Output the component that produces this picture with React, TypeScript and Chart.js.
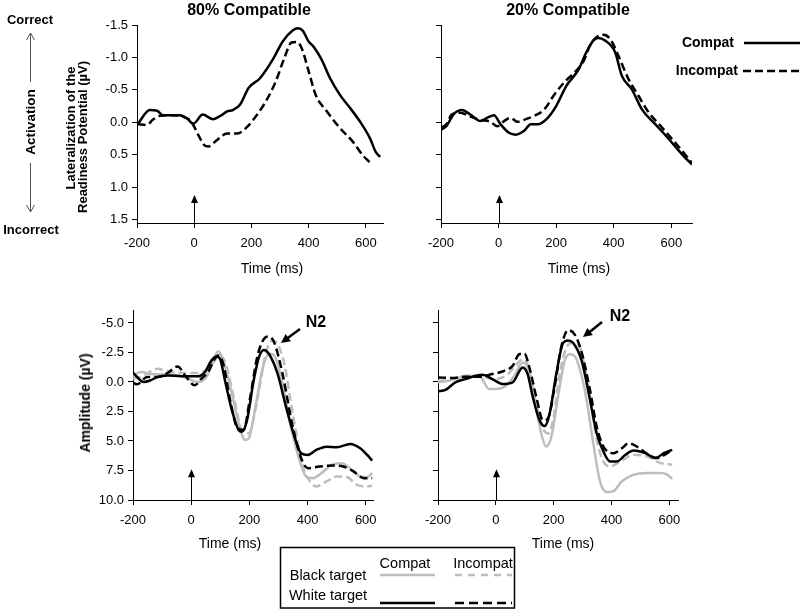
import React, { useEffect, useRef } from "react";
import { Chart, registerables } from "chart.js";

Chart.register(...registerables);

const FONT = "'Liberation Sans', Arial, Helvetica, sans-serif";
const GRAY = "#bdbdbd";
const BLACK = "#000000";

// ---------- tick labels ----------
const X_TICKS = [-200, 0, 200, 400, 600];
const LRP_TICKS = [-1.5, -1.0, -0.5, 0.0, 0.5, 1.0, 1.5];
const AMP_TICKS = [-5.0, -2.5, 0.0, 2.5, 5.0, 7.5, 10.0];

// ---------- 80% Compatible, LRP ----------
const TL_COMPAT_T = [-198, -155, -130, -110, -50, -25, -3, 30, 65, 95, 115, 135, 160, 190, 230, 275, 310, 345, 363, 380, 398, 420, 445, 475, 510, 545, 580, 615, 635, 650];
const TL_COMPAT_V = [0.03, -0.19, -0.18, -0.11, -0.11, -0.06, 0.02, -0.12, -0.05, -0.11, -0.17, -0.19, -0.27, -0.53, -0.68, -0.97, -1.25, -1.42, -1.45, -1.41, -1.26, -1.15, -0.97, -0.68, -0.42, -0.22, -0.01, 0.25, 0.46, 0.53];
const TL_INCOMPAT_T = [-198, -165, -145, -120, -75, -40, -10, 15, 35, 50, 80, 115, 150, 185, 215, 250, 285, 315, 340, 357, 375, 400, 425, 460, 510, 555, 590, 620];
const TL_INCOMPAT_V = [0.03, 0.04, -0.04, -0.10, -0.11, -0.09, -0.01, 0.20, 0.35, 0.37, 0.27, 0.17, 0.17, 0.07, -0.09, -0.32, -0.63, -0.99, -1.23, -1.24, -1.15, -0.79, -0.42, -0.19, 0.09, 0.30, 0.51, 0.64];

// ---------- 20% Compatible, LRP ----------
const TR_COMPAT_T = [-198, -180, -157, -127, -98, -63, -40, -16, 7, 36, 60, 89, 112, 136, 171, 200, 235, 276, 305, 329, 346, 370, 405, 428, 463, 498, 545, 592, 639, 672];
const TR_COMPAT_V = [0.11, 0.05, -0.12, -0.19, -0.12, -0.02, -0.07, -0.11, 0.03, 0.16, 0.19, 0.13, 0.03, 0.03, -0.07, -0.25, -0.56, -0.80, -1.08, -1.26, -1.30, -1.26, -1.08, -0.72, -0.51, -0.20, 0.03, 0.26, 0.50, 0.65];
const TR_INCOMPAT_T = [-198, -180, -163, -133, -98, -63, -28, -5, 19, 42, 65, 95, 124, 159, 194, 229, 264, 294, 317, 340, 364, 387, 416, 451, 486, 522, 568, 615, 662, 672];
const TR_INCOMPAT_V = [0.08, 0.02, -0.12, -0.15, -0.09, -0.04, -0.01, 0.06, -0.02, -0.07, -0.01, -0.05, -0.10, -0.20, -0.43, -0.62, -0.77, -0.93, -1.18, -1.31, -1.35, -1.29, -1.03, -0.67, -0.41, -0.15, 0.08, 0.32, 0.57, 0.63];

// ---------- 80% Compatible, amplitude ----------
const BL_WHITE_COMPAT_T = [-200, -186, -163, -140, -116, -81, -35, 23, 47, 70, 87, 99, 116, 140, 163, 174, 192, 215, 233, 250, 267, 297, 326, 355, 378, 401, 430, 465, 500, 547, 581, 605, 622];
const BL_WHITE_COMPAT_V = [-0.8, -0.42, 0, -0.14, -0.42, -0.56, -0.48, -0.48, -0.84, -1.83, -2.16, -1.97, -0.14, 2.39, 4.07, 4.21, 3.23, -0.14, -2.11, -2.72, -2.39, -0.70, 2.11, 4.63, 6.04, 6.18, 5.76, 5.48, 5.53, 5.25, 5.62, 6.18, 6.66];
const BL_WHITE_INCOMPAT_T = [-200, -186, -151, -116, -81, -47, -17, 12, 35, 58, 81, 93, 110, 134, 157, 180, 203, 227, 250, 267, 285, 314, 349, 378, 401, 442, 488, 523, 558, 593, 622];
const BL_WHITE_INCOMPAT_V = [0.08, 0.2, -0.42, -0.42, -0.76, -1.32, -0.42, 0.28, -0.28, -0.84, -1.97, -2.25, -1.55, 1.55, 3.79, 4.07, 1.26, -2.11, -3.65, -3.85, -3.37, -0.70, 3.79, 6.46, 7.30, 7.16, 7.08, 7.16, 7.58, 8.15, 8.15];
const BL_BLACK_COMPAT_T = [-200, -174, -128, -81, -23, 23, 52, 76, 93, 110, 140, 163, 186, 198, 221, 244, 267, 285, 314, 343, 372, 395, 419, 448, 483, 517, 552, 581, 605, 622];
const BL_BLACK_COMPAT_V = [-0.48, -0.84, -0.65, -0.65, -0.42, 0, -0.42, -1.83, -2.61, -1.83, 0.98, 3.51, 4.92, 4.78, 2.11, -0.98, -2.39, -2.25, 0.14, 3.79, 6.60, 8.01, 8.15, 7.72, 7.02, 6.88, 7.44, 8.01, 8.06, 7.72];
const BL_BLACK_INCOMPAT_T = [-200, -174, -116, -70, -23, 23, 58, 87, 105, 122, 151, 174, 198, 227, 256, 279, 297, 320, 349, 384, 413, 430, 465, 500, 535, 570, 605, 622];
const BL_BLACK_INCOMPAT_V = [-0.28, -0.42, -1.12, -0.84, -0.76, -0.76, -1.12, -1.97, -2.11, -1.26, 1.83, 4.07, 4.35, 1.55, -2.39, -3.51, -3.23, -1.55, 2.67, 7.16, 8.57, 8.85, 8.43, 8.01, 8.06, 8.71, 8.85, 8.79];

// ---------- 20% Compatible, amplitude ----------
const BR_WHITE_COMPAT_T = [-200, -174, -140, -105, -47, -12, 23, 58, 93, 110, 128, 151, 169, 186, 209, 233, 250, 267, 297, 326, 349, 372, 395, 419, 448, 477, 517, 552, 581, 610];
const BR_WHITE_COMPAT_V = [0.78, 0.67, 0.03, -0.25, -0.61, -0.25, 0.17, 0.03, -1.23, -0.67, 1.28, 3.24, 3.74, 2.68, -0.67, -3.32, -3.52, -3.32, -1.79, 1.56, 4.36, 5.89, 6.73, 6.73, 6.17, 5.81, 6.03, 6.45, 6.03, 5.75];
const BR_WHITE_INCOMPAT_T = [-200, -151, -105, -58, -12, 23, 58, 81, 99, 116, 140, 163, 180, 203, 227, 250, 273, 297, 326, 349, 372, 407, 436, 459, 488, 523, 558, 593, 610];
const BR_WHITE_INCOMPAT_V = [-0.39, -0.34, -0.45, -0.45, -0.67, -0.89, -1.37, -2.35, -2.40, -1.23, 1.28, 3.24, 3.10, 0.45, -3.04, -4.39, -4.02, -2.49, 0.73, 3.80, 5.47, 6.03, 5.61, 5.20, 5.47, 6.09, 6.45, 6.03, 5.75];
const BR_BLACK_COMPAT_T = [-200, -163, -116, -58, -23, 0, 35, 64, 93, 110, 134, 157, 174, 192, 215, 238, 256, 279, 308, 337, 360, 384, 407, 436, 477, 523, 570, 593, 610];
const BR_BLACK_COMPAT_V = [0.03, -0.11, -0.45, -0.53, 0.59, 0.59, 0.31, -0.53, -1.65, -1.23, 1.56, 4.36, 5.47, 4.64, 1.28, -1.79, -2.35, -1.93, 0.73, 5.20, 8.41, 9.33, 9.25, 8.41, 7.85, 7.71, 7.71, 7.85, 8.21];
const BR_BLACK_INCOMPAT_T = [-200, -163, -105, -58, -12, 35, 64, 93, 110, 140, 163, 180, 198, 221, 244, 267, 291, 320, 349, 372, 395, 430, 477, 523, 570, 610];
const BR_BLACK_INCOMPAT_V = [-0.11, -0.17, -0.53, -0.53, -0.25, -0.53, -1.23, -1.93, -1.51, 1.84, 3.94, 4.36, 3.24, -0.67, -2.91, -3.32, -2.91, 0.45, 4.92, 6.73, 7.15, 6.73, 6.17, 6.31, 6.87, 7.01];

type Series = { label: string; t: number[]; v: number[]; color: string; dash: number[] };

type PanelProps = {
  left: number; top: number; width: number; height: number;
  pad: { left: number; top: number; right: number; bottom: number };
  yWidth: number; xHeight: number;
  xMin: number; xMax: number; yMin: number; yMax: number;
  yTicks: number[]; showYLabels: boolean;
  series: Series[]; arrowTip: number;
};

const zeroArrow = {
  id: "zeroArrow",
  afterDatasetsDraw(chart: any, _args: any, opts: any) {
    const { ctx, chartArea, scales } = chart;
    const x = Math.round(scales.x.getPixelForValue(0)) + 0.5;
    const yTip = scales.y.getPixelForValue(opts.tip);
    ctx.save();
    ctx.strokeStyle = "#000";
    ctx.fillStyle = "#000";
    ctx.lineWidth = 1;
    ctx.beginPath();
    ctx.moveTo(x, chartArea.bottom);
    ctx.lineTo(x, yTip + 6);
    ctx.stroke();
    ctx.beginPath();
    ctx.moveTo(x, yTip);
    ctx.lineTo(x - 3.5, yTip + 8);
    ctx.lineTo(x + 3.5, yTip + 8);
    ctx.closePath();
    ctx.fill();
    ctx.restore();
  },
};

function Panel(p: PanelProps) {
  const ref = useRef<HTMLCanvasElement | null>(null);
  useEffect(() => {
    if (!ref.current) return;
    const chart = new Chart(ref.current, {
      type: "line",
      data: {
        datasets: p.series.map((s) => ({
          label: s.label,
          data: s.t.map((x, i) => ({ x, y: s.v[i] })),
          borderColor: s.color,
          borderWidth: 2.5,
          borderDash: s.dash,
          pointRadius: 0,
          fill: false,
          cubicInterpolationMode: "monotone",
        })),
      },
      options: {
        animation: false,
        responsive: false,
        devicePixelRatio: 1,
        events: [],
        layout: { padding: p.pad },
        plugins: {
          legend: { display: false },
          tooltip: { enabled: false },
          zeroArrow: { tip: p.arrowTip },
        } as any,
        scales: {
          x: {
            type: "linear",
            min: p.xMin,
            max: p.xMax,
            afterBuildTicks: (s: any) => { s.ticks = X_TICKS.map((value) => ({ value })); },
            afterFit: (s: any) => { s.height = p.xHeight; },
            grid: { drawOnChartArea: false, drawTicks: true, tickLength: 5, color: BLACK, lineWidth: 1 },
            border: { display: true, color: BLACK, width: 1 },
            ticks: { color: BLACK, font: { family: FONT, size: 13 }, padding: 8, maxRotation: 0, autoSkip: false },
          },
          y: {
            type: "linear",
            reverse: true,
            min: p.yMin,
            max: p.yMax,
            afterBuildTicks: (s: any) => { s.ticks = p.yTicks.map((value) => ({ value })); },
            afterFit: (s: any) => { s.width = p.yWidth; },
            grid: { drawOnChartArea: false, drawTicks: true, tickLength: 5, color: BLACK, lineWidth: 1 },
            border: { display: true, color: BLACK, width: 1 },
            ticks: {
              display: p.showYLabels,
              color: BLACK,
              font: { family: FONT, size: 13 },
              padding: 4,
              autoSkip: false,
              callback: (v: any) => Number(v).toFixed(1),
            },
          },
        },
      } as any,
      plugins: [zeroArrow],
    });
    return () => chart.destroy();
  }, []);
  return (
    <div style={{ position: "absolute", left: p.left, top: p.top, width: p.width, height: p.height }}>
      <canvas ref={ref} width={p.width} height={p.height} style={{ display: "block" }} />
    </div>
  );
}

type TxtProps = { x: number; y: number; size?: number; bold?: boolean; rotate?: boolean; anchor?: "center" | "right"; children: React.ReactNode };
function Txt({ x, y, size = 14, bold = false, rotate = false, anchor = "center", children }: TxtProps) {
  const tx = anchor === "right" ? "-100%" : "-50%";
  return (
    <div
      style={{
        position: "absolute", left: x, top: y,
        transform: `translate(${tx},-50%)${rotate ? " rotate(-90deg)" : ""}`,
        whiteSpace: "nowrap", fontFamily: FONT, fontSize: size,
        fontWeight: bold ? "bold" : "normal", lineHeight: 1.15, color: "#000",
      }}
    >
      {children}
    </div>
  );
}

function arrowHead(tx: number, ty: number, fx: number, fy: number, len: number, half: number) {
  const dx = tx - fx, dy = ty - fy;
  const L = Math.hypot(dx, dy);
  const ux = dx / L, uy = dy / L;
  const bx = tx - ux * len, by = ty - uy * len;
  const nx = -uy, ny = ux;
  return `${tx},${ty} ${bx + nx * half},${by + ny * half} ${bx - nx * half},${by - ny * half}`;
}

const COMPAT = "Compat";
const INCOMPAT = "Incompat";

export default function App() {
  const lrpPad = { left: 0, top: 25, right: 17, bottom: 0 };
  return (
    <div style={{ position: "absolute", left: 0, top: 0, width: 800, height: 609, background: "#fff", overflow: "hidden" }}>
      <Panel
        left={0} top={0} width={400} height={280}
        pad={lrpPad} yWidth={137} xHeight={57}
        xMin={-200} xMax={660} yMin={-1.5} yMax={1.55}
        yTicks={LRP_TICKS} showYLabels={true} arrowTip={1.12}
        series={[
          { label: COMPAT, t: TL_COMPAT_T, v: TL_COMPAT_V, color: BLACK, dash: [] },
          { label: INCOMPAT, t: TL_INCOMPAT_T, v: TL_INCOMPAT_V, color: BLACK, dash: [8, 4] },
        ]}
      />
      <Panel
        left={400} top={0} width={400} height={280}
        pad={{ left: 0, top: 25, right: 108, bottom: 0 }} yWidth={41} xHeight={57}
        xMin={-200} xMax={672} yMin={-1.5} yMax={1.55}
        yTicks={LRP_TICKS} showYLabels={false} arrowTip={1.12}
        series={[
          { label: COMPAT, t: TR_COMPAT_T, v: TR_COMPAT_V, color: BLACK, dash: [] },
          { label: INCOMPAT, t: TR_INCOMPAT_T, v: TR_INCOMPAT_V, color: BLACK, dash: [8, 4] },
        ]}
      />
      <Panel
        left={0} top={290} width={400} height={270}
        pad={{ left: 0, top: 20, right: 27, bottom: 0 }} yWidth={133} xHeight={60}
        xMin={-200} xMax={625} yMin={-6.1} yMax={10}
        yTicks={AMP_TICKS} showYLabels={true} arrowTip={7.4}
        series={[
          { label: "White target " + COMPAT, t: BL_WHITE_COMPAT_T, v: BL_WHITE_COMPAT_V, color: BLACK, dash: [] },
          { label: "White target " + INCOMPAT, t: BL_WHITE_INCOMPAT_T, v: BL_WHITE_INCOMPAT_V, color: BLACK, dash: [8, 4] },
          { label: "Black target " + COMPAT, t: BL_BLACK_COMPAT_T, v: BL_BLACK_COMPAT_V, color: GRAY, dash: [] },
          { label: "Black target " + INCOMPAT, t: BL_BLACK_INCOMPAT_T, v: BL_BLACK_INCOMPAT_V, color: GRAY, dash: [8, 4] },
        ]}
      />
      <Panel
        left={400} top={290} width={400} height={270}
        pad={{ left: 0, top: 20, right: 122, bottom: 0 }} yWidth={38} xHeight={60}
        xMin={-200} xMax={630} yMin={-6.1} yMax={10}
        yTicks={AMP_TICKS} showYLabels={false} arrowTip={7.4}
        series={[
          { label: "White target " + COMPAT, t: BR_WHITE_COMPAT_T, v: BR_WHITE_COMPAT_V, color: BLACK, dash: [] },
          { label: "White target " + INCOMPAT, t: BR_WHITE_INCOMPAT_T, v: BR_WHITE_INCOMPAT_V, color: BLACK, dash: [8, 4] },
          { label: "Black target " + COMPAT, t: BR_BLACK_COMPAT_T, v: BR_BLACK_COMPAT_V, color: GRAY, dash: [] },
          { label: "Black target " + INCOMPAT, t: BR_BLACK_INCOMPAT_T, v: BR_BLACK_INCOMPAT_V, color: GRAY, dash: [8, 4] },
        ]}
      />

      {/* titles */}
      <Txt x={249} y={10} size={16} bold>80% Compatible</Txt>
      <Txt x={568} y={10} size={16} bold>20% Compatible</Txt>

      {/* left annotation */}
      <Txt x={30} y={20} size={13} bold>Correct</Txt>
      <Txt x={31} y={122} size={13.5} bold rotate>Activation</Txt>
      <Txt x={31} y={230} size={13} bold>Incorrect</Txt>

      {/* axis titles */}
      <Txt x={70.5} y={128} size={13} bold rotate>Lateralization of the</Txt>
      <Txt x={83} y={137} size={13} bold rotate>Readiness Potential (µV)</Txt>
      <Txt x={85} y={403} size={14} bold rotate>Amplitude (µV)</Txt>
      <Txt x={272} y={268} size={14}>Time (ms)</Txt>
      <Txt x={579} y={268} size={14}>Time (ms)</Txt>
      <Txt x={230} y={543} size={14}>Time (ms)</Txt>
      <Txt x={563} y={543} size={14}>Time (ms)</Txt>

      {/* N2 labels */}
      <Txt x={316} y={322} size={16} bold>N2</Txt>
      <Txt x={620} y={316} size={16} bold>N2</Txt>

      {/* top-right legend */}
      <Txt x={734} y={42} size={14} bold anchor="right">{COMPAT}</Txt>
      <Txt x={738} y={70} size={14} bold anchor="right">{INCOMPAT}</Txt>

      {/* bottom legend */}
      <Txt x={405} y={563} size={14.5}>{COMPAT}</Txt>
      <Txt x={483} y={563} size={14.5}>{INCOMPAT}</Txt>
      <Txt x={328} y={575} size={14.5}>Black target</Txt>
      <Txt x={328} y={595} size={14.5}>White target</Txt>

      <svg width={800} height={609} style={{ position: "absolute", left: 0, top: 0, pointerEvents: "none" }}>
        {/* activation arrows */}
        <line x1={30.5} y1={33} x2={30.5} y2={82} stroke="#555" strokeWidth={1} />
        <polyline points="26.5,40 30.5,33 34.5,40" fill="none" stroke="#555" strokeWidth={1} />
        <line x1={30.5} y1={163} x2={30.5} y2={212} stroke="#555" strokeWidth={1} />
        <polyline points="26.5,205 30.5,212 34.5,205" fill="none" stroke="#555" strokeWidth={1} />

        {/* N2 arrows */}
        <line x1={300} y1={329} x2={287} y2={338.5} stroke="#000" strokeWidth={2.5} />
        <polygon points={arrowHead(281, 343, 300, 329, 9, 4.5)} fill="#000" />
        <line x1={602} y1={322} x2={589} y2={332.5} stroke="#000" strokeWidth={2.5} />
        <polygon points={arrowHead(583, 337, 602, 322, 9, 4.5)} fill="#000" />

        {/* top-right legend lines */}
        <line x1={744} y1={43} x2={800} y2={43} stroke="#000" strokeWidth={2.5} />
        <line x1={743} y1={71} x2={800} y2={71} stroke="#000" strokeWidth={2.5} strokeDasharray="8 4" />

        {/* bottom legend */}
        <rect x={280.5} y={547.5} width={234} height={60.5} fill="none" stroke="#000" strokeWidth={1.5} />
        <line x1={380} y1={575} x2={435} y2={575} stroke={GRAY} strokeWidth={2.5} />
        <line x1={455} y1={575} x2={512} y2={575} stroke={GRAY} strokeWidth={2.5} strokeDasharray="7 6" />
        <line x1={380} y1={603} x2={435} y2={603} stroke="#000" strokeWidth={2.5} />
        <line x1={455} y1={603} x2={512} y2={603} stroke="#000" strokeWidth={2.5} strokeDasharray="9 5" />
      </svg>
    </div>
  );
}
